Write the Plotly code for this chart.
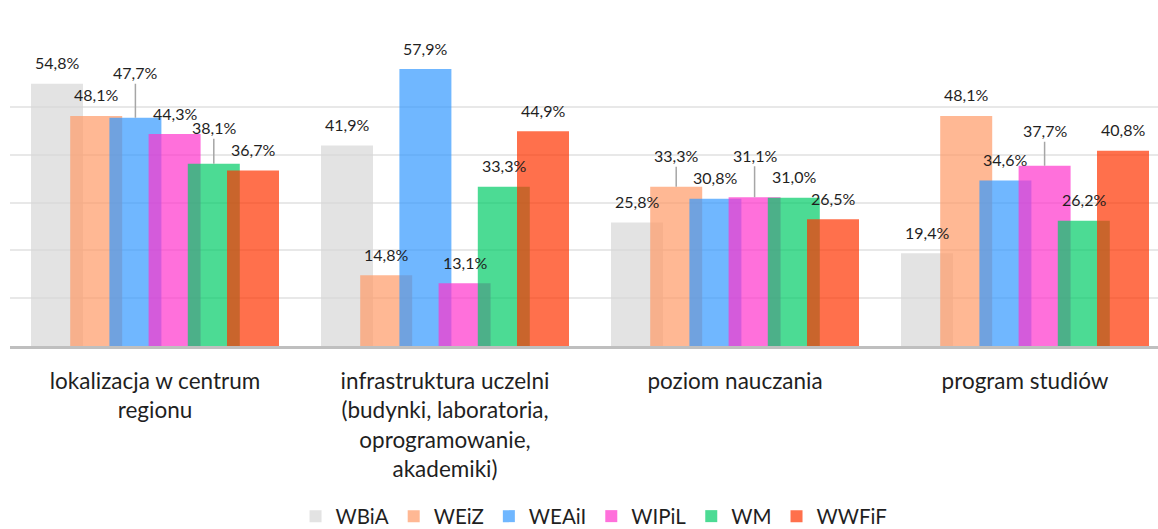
import plotly.graph_objects as go

categories = [
    "lokalizacja w centrum<br>regionu",
    "infrastruktura uczelni<br>(budynki, laboratoria,<br>oprogramowanie,<br>akademiki)",
    "poziom nauczania",
    "program studiów",
]
series_names = ["WBiA", "WEiZ", "WEAiI", "WIPiL", "WM", "WWFiF"]
wbia = [54.8, 41.9, 25.8, 19.4]
weiz = [48.1, 14.8, 33.3, 48.1]
weaii = [47.7, 57.9, 30.8, 34.6]
wipil = [44.3, 13.1, 31.1, 37.7]
wm = [38.1, 33.3, 31.0, 26.2]
wwfif = [36.7, 44.9, 26.5, 40.8]
series_values = [wbia, weiz, weaii, wipil, wm, wwfif]

# styles
colors = [
    "rgba(215,215,215,0.7)",
    "rgba(255,154,102,0.7)",
    "rgba(51,153,255,0.7)",
    "rgba(255,51,204,0.7)",
    "rgba(0,204,102,0.7)",
    "rgba(255,51,0,0.7)",
]
PX_PER_CAT = 290.0
BAR_W = 52 / PX_PER_CAT
STEP = 39.2 / PX_PER_CAT
FIRST_OFF = -124 / PX_PER_CAT
LABEL_GAP = 21
# labels lifted with a leader line: (series index, category index) -> pixels above bar top
leader = {(2, 0): 45, (4, 0): 36, (1, 2): 31, (3, 2): 42, (3, 3): 35}

FONT = "Lato, 'Open Sans', sans-serif"
TXT = "#1F1F1F"

xs = list(range(len(categories)))
fig = go.Figure()
annotations = []
for j, (name, vals) in enumerate(zip(series_names, series_values)):
    off = FIRST_OFF + j * STEP
    fig.add_trace(go.Bar(
        x=xs, y=vals, name=name,
        offset=off, width=BAR_W,
        marker=dict(color=colors[j], line=dict(width=0)),
        hoverinfo="skip",
    ))
    for i, v in enumerate(vals):
        txt = f"{v:.1f}".replace(".", ",") + "%"
        cx = i + off + BAR_W / 2
        if (j, i) in leader:
            annotations.append(dict(
                x=cx, y=v, xref="x", yref="y", text=txt,
                showarrow=True, arrowhead=0, arrowwidth=1.5, arrowcolor="#A6A6A6",
                ax=0, ay=-leader[(j, i)], standoff=0,
                font=dict(family=FONT, size=16, color=TXT),
            ))
        else:
            annotations.append(dict(
                x=cx, y=v, xref="x", yref="y", text=txt,
                showarrow=False, yanchor="middle", yshift=LABEL_GAP,
                font=dict(family=FONT, size=16, color=TXT),
            ))

plot_w = 1158 - 10
fig.update_layout(
    width=1158, height=529,
    barmode="overlay",
    paper_bgcolor="white", plot_bgcolor="white",
    margin=dict(l=10, r=0, t=59, b=183),
    font=dict(family=FONT, color=TXT),
    annotations=annotations,
    showlegend=True,
    legend=dict(
        orientation="h", xref="container", yref="container",
        x=0.513, xanchor="center", y=0.024, yanchor="middle",
        font=dict(family=FONT, size=20.5, color=TXT),
        itemwidth=30, traceorder="normal",
    ),
    xaxis=dict(
        range=[-0.5, -0.5 + plot_w / PX_PER_CAT],
        tickmode="array", tickvals=xs, ticktext=categories,
        tickfont=dict(family=FONT, size=22.5, color=TXT),
        showgrid=False, zeroline=False,
        showline=True, linecolor="#BFBFBF", linewidth=3,
        ticks="", ticklabelstandoff=13,
        fixedrange=True,
    ),
    yaxis=dict(
        range=[0, 60], dtick=10, showticklabels=False,
        showgrid=True, gridcolor="#E8E8E8", gridwidth=1.5,
        zeroline=False, showline=False, fixedrange=True,
    ),
)

fig.write_html(
    "out.html",
    config={"displayModeBar": False},
    post_script="document.body.style.margin='0';",
)
